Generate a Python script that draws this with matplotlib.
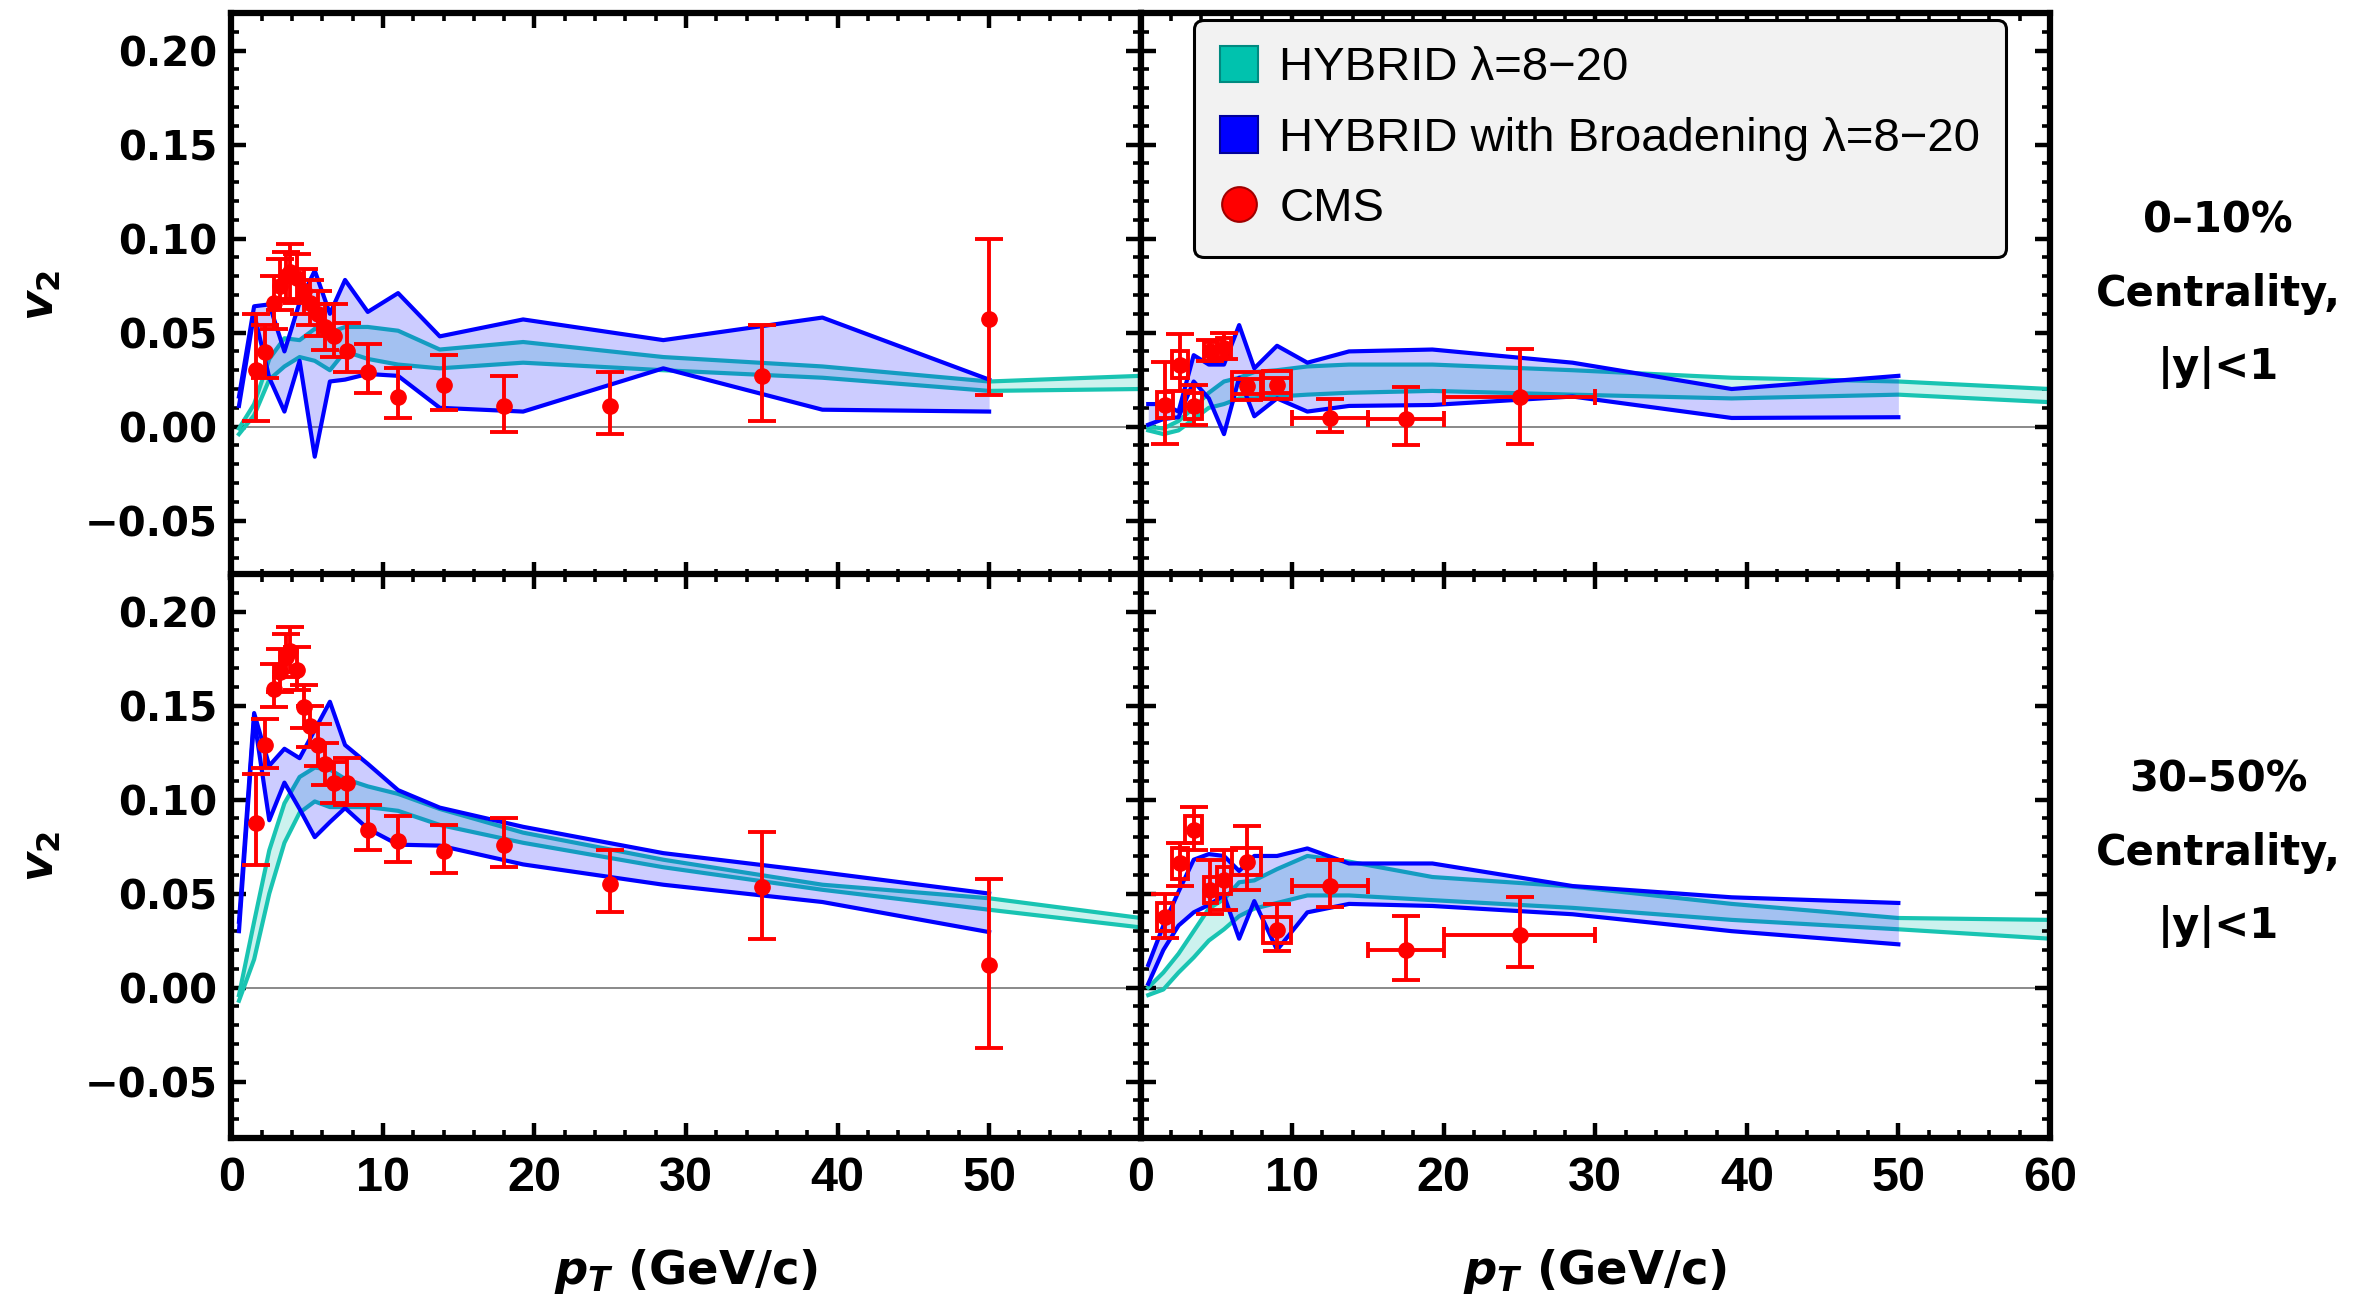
import numpy as np
import matplotlib
matplotlib.use("Agg")
import matplotlib.pyplot as plt
from matplotlib.ticker import MultipleLocator, FuncFormatter
from matplotlib.patches import Rectangle, Patch
from matplotlib.lines import Line2D

# theory pT grids
pt_broad = [0.5, 1.5, 2.5, 3.5, 4.5, 5.5, 6.5, 7.5, 9.0, 11.0, 13.75, 19.25, 28.5, 39.0, 50.0]
pt_hybrid = [0.5, 1.5, 2.5, 3.5, 4.5, 5.5, 6.5, 7.5, 9.0, 11.0, 13.75, 19.25, 28.5, 39.0, 50.0, 60.0]

# 0-10%, left column
tl_hyb_hi = [-0.001, 0.012, 0.036, 0.047, 0.046, 0.052, 0.050, 0.053, 0.053, 0.051, 0.041, 0.045, 0.037, 0.032, 0.024, 0.027]
tl_hyb_lo = [-0.004, 0.006, 0.025, 0.032, 0.037, 0.035, 0.030, 0.040, 0.036, 0.033, 0.031, 0.034, 0.030, 0.026, 0.019, 0.020]
tl_brd_hi = [0.016, 0.064, 0.065, 0.040, 0.066, 0.083, 0.060, 0.078, 0.061, 0.071, 0.048, 0.057, 0.046, 0.058, 0.025]
tl_brd_lo = [0.011, 0.060, 0.026, 0.008, 0.035, -0.016, 0.024, 0.025, 0.028, 0.027, 0.010, 0.008, 0.031, 0.009, 0.008]

# 0-10%, right column
tr_hyb_hi = [0.000, -0.001, 0.003, 0.010, 0.018, 0.024, 0.026, 0.029, 0.030, 0.032, 0.033, 0.033, 0.030, 0.026, 0.024, 0.020]
tr_hyb_lo = [-0.002, -0.004, -0.002, 0.004, 0.010, 0.012, 0.015, 0.015, 0.016, 0.017, 0.018, 0.019, 0.017, 0.015, 0.017, 0.013]
tr_brd_hi = [0.012, 0.012, 0.008, 0.038, 0.033, 0.033, 0.054, 0.031, 0.043, 0.034, 0.040, 0.041, 0.034, 0.020, 0.027]
tr_brd_lo = [0.001, 0.004, 0.005, 0.024, 0.015, -0.004, 0.026, 0.0055, 0.015, 0.008, 0.011, 0.0115, 0.016, 0.0046, 0.005]

# 30-50%, left column
bl_hyb_hi = [-0.004, 0.035, 0.073, 0.098, 0.112, 0.117, 0.116, 0.111, 0.107, 0.103, 0.095, 0.0824, 0.068, 0.0547, 0.0475, 0.037]
bl_hyb_lo = [-0.007, 0.015, 0.050, 0.077, 0.093, 0.099, 0.096, 0.096, 0.096, 0.094, 0.0865, 0.077, 0.064, 0.052, 0.0414, 0.032]
bl_brd_hi = [0.035, 0.146, 0.118, 0.127, 0.122, 0.137, 0.152, 0.129, 0.119, 0.105, 0.0957, 0.0855, 0.0715, 0.0613, 0.050]
bl_brd_lo = [0.030, 0.143, 0.089, 0.109, 0.095, 0.080, 0.088, 0.0955, 0.0845, 0.076, 0.0755, 0.0655, 0.0547, 0.0455, 0.0295]

# 30-50%, right column
br_hyb_hi = [0.000, 0.008, 0.018, 0.030, 0.042, 0.047, 0.056, 0.057, 0.063, 0.070, 0.067, 0.0588, 0.0537, 0.0445, 0.037, 0.036]
br_hyb_lo = [-0.004, -0.001, 0.008, 0.016, 0.025, 0.031, 0.038, 0.042, 0.045, 0.049, 0.049, 0.0465, 0.0424, 0.036, 0.031, 0.026]
br_brd_hi = [0.012, 0.033, 0.051, 0.068, 0.071, 0.070, 0.062, 0.070, 0.070, 0.074, 0.066, 0.066, 0.054, 0.048, 0.045]
br_brd_lo = [0.002, 0.020, 0.033, 0.040, 0.044, 0.049, 0.026, 0.046, 0.020, 0.040, 0.0445, 0.0434, 0.039, 0.030, 0.023]

# CMS data, left column
cms_pt_l = [1.6, 2.25, 2.8, 3.2, 3.6, 3.9, 4.3, 4.8, 5.2, 5.7, 6.2, 6.8, 7.6, 9.0, 11.0, 14.0, 18.0, 25.0, 35.0, 50.0]
tl_v2 = [0.030, 0.0395, 0.066, 0.075, 0.080, 0.082, 0.079, 0.072, 0.066, 0.060, 0.053, 0.048, 0.040, 0.029, 0.016, 0.022, 0.011, 0.011, 0.027, 0.057]
tl_lo = [0.027, 0.0135, 0.014, 0.013, 0.013, 0.014, 0.013, 0.012, 0.012, 0.012, 0.012, 0.011, 0.011, 0.011, 0.0115, 0.013, 0.014, 0.015, 0.024, 0.040]
tl_hi = [0.030, 0.0145, 0.014, 0.014, 0.013, 0.015, 0.013, 0.012, 0.012, 0.012, 0.012, 0.017, 0.015, 0.015, 0.015, 0.016, 0.016, 0.018, 0.027, 0.043]
bl_v2 = [0.0875, 0.129, 0.159, 0.168, 0.176, 0.179, 0.169, 0.149, 0.139, 0.129, 0.119, 0.109, 0.109, 0.0836, 0.078, 0.0725, 0.0756, 0.0553, 0.0533, 0.012]
bl_lo = [0.0225, 0.012, 0.010, 0.011, 0.011, 0.011, 0.011, 0.011, 0.011, 0.011, 0.011, 0.011, 0.012, 0.0106, 0.011, 0.0115, 0.0116, 0.0153, 0.0273, 0.044]
bl_hi = [0.026, 0.014, 0.013, 0.012, 0.012, 0.013, 0.012, 0.012, 0.011, 0.011, 0.011, 0.011, 0.013, 0.0134, 0.013, 0.0141, 0.0144, 0.0177, 0.0297, 0.046]

# CMS data, right column (bin half widths, systematic boxes)
cms_pt_r = [1.6, 2.6, 3.5, 4.6, 5.5, 7.0, 9.0, 12.5, 17.5, 25.0]
cms_bin_r = [0, 0, 0, 0, 0, 0, 0, 2.5, 2.5, 5.0]
cms_box_r = [0.55, 0.5, 0.55, 0.45, 0.45, 0.95, 0.95, 0, 0, 0]
tr_v2 = [0.0115, 0.033, 0.011, 0.040, 0.042, 0.0215, 0.022, 0.0047, 0.004, 0.0155]
tr_lo = [0.021, 0.014, 0.010, 0.005, 0.006, 0.004, 0.004, 0.0075, 0.014, 0.025]
tr_hi = [0.023, 0.016, 0.011, 0.006, 0.008, 0.004, 0.004, 0.010, 0.017, 0.026]
tr_sys = [0.007, 0.007, 0.007, 0.005, 0.005, 0.0075, 0.0075, 0, 0, 0]
br_v2 = [0.0375, 0.066, 0.084, 0.052, 0.057, 0.067, 0.0305, 0.054, 0.020, 0.028]
br_lo = [0.011, 0.012, 0.011, 0.013, 0.016, 0.015, 0.011, 0.011, 0.016, 0.017]
br_hi = [0.012, 0.011, 0.012, 0.016, 0.016, 0.019, 0.014, 0.014, 0.018, 0.020]
br_sys = [0.0075, 0.008, 0.007, 0.007, 0.007, 0.007, 0.007, 0, 0, 0]

CYAN = '#19c4b2'
BLUE = '#0000ff'
RED = '#ff0000'

plt.rcParams['font.family'] = ['DejaVu Sans']
plt.rcParams['mathtext.fontset'] = 'custom'
plt.rcParams['mathtext.it'] = 'DejaVu Sans:bold:italic'
plt.rcParams['mathtext.rm'] = 'DejaVu Sans:bold'
plt.rcParams['mathtext.bf'] = 'DejaVu Sans:bold'


def draw_theory(ax, hyb_lo, hyb_hi, brd_lo, brd_hi):
    ax.axhline(0, color='#808080', lw=1.3, zorder=0.5)
    ax.fill_between(pt_hybrid, hyb_lo, hyb_hi, color=CYAN, alpha=0.22, lw=0, zorder=1)
    ax.plot(pt_hybrid, hyb_lo, color=CYAN, lw=3.0, zorder=2)
    ax.plot(pt_hybrid, hyb_hi, color=CYAN, lw=3.0, zorder=2)
    ax.fill_between(pt_broad, brd_lo, brd_hi, color=BLUE, alpha=0.2, lw=0, zorder=3)
    ax.plot(pt_broad, brd_lo, color=BLUE, lw=3.0, zorder=4)
    ax.plot(pt_broad, brd_hi, color=BLUE, lw=3.0, zorder=4)


def draw_cms(ax, x, y, lo, hi, xerr=None, box_dx=None, box_dy=None):
    x = np.asarray(x)
    y = np.asarray(y)
    ax.errorbar(x, y, yerr=[lo, hi], fmt='o', color=RED, ms=11,
                elinewidth=2.8, capsize=10, capthick=2.8, zorder=6)
    if xerr is not None:
        xerr = np.asarray(xerr)
        m = xerr > 0
        ax.errorbar(x[m], y[m], xerr=xerr[m], fmt='none', ecolor=RED,
                    elinewidth=2.8, capsize=6, capthick=2.8, zorder=6)
    if box_dx is not None:
        for xi, yi, dx, dy in zip(x, y, box_dx, box_dy):
            if dx > 0:
                ax.add_patch(Rectangle((xi - dx, yi - dy), 2 * dx, 2 * dy, fill=False,
                                       ec=RED, lw=2.8, zorder=6))


def style_axis(ax, show_x, show_y, drop_60=False):
    ax.set_xlim(0, 60)
    ax.set_ylim(-0.08, 0.22)
    ax.set_xticks([0, 10, 20, 30, 40, 50, 60])
    ax.set_yticks([-0.05, 0.0, 0.05, 0.10, 0.15, 0.20])
    ax.xaxis.set_minor_locator(MultipleLocator(2))
    ax.yaxis.set_minor_locator(MultipleLocator(0.01))
    ax.yaxis.set_major_formatter(FuncFormatter(lambda v, p: f'{v:.2f}'.replace('-', '\u2212')))
    if drop_60:
        ax.xaxis.set_major_formatter(FuncFormatter(lambda v, p: '' if v > 55 else f'{v:.0f}'))
    else:
        ax.xaxis.set_major_formatter(FuncFormatter(lambda v, p: f'{v:.0f}'))
    ax.tick_params(which='both', direction='in', top=True, right=True,
                   labelbottom=show_x, labelleft=show_y)
    ax.tick_params(which='major', length=11, width=3.2)
    ax.tick_params(which='minor', length=6, width=2.6)
    ax.tick_params(axis='x', pad=13)
    ax.tick_params(axis='y', pad=10)
    for sp in ax.spines.values():
        sp.set_linewidth(4.5)
        sp.set_zorder(10)
    plt.setp(ax.get_xticklabels(), fontfamily=['Liberation Sans', 'DejaVu Sans'],
             fontweight='bold', fontsize=35)
    plt.setp(ax.get_yticklabels(), fontfamily='DejaVu Sans', fontweight='bold', fontsize=29)
    if show_y:
        ax.set_ylabel(r'$v_2$', fontsize=33)
        ax.yaxis.set_label_coords(-0.185, 0.5)
    if show_x:
        ax.set_xlabel(r'$p_T$ (GeV/c)', fontsize=33.5, fontweight='bold')
        ax.xaxis.label.set_va('center')
        ax.xaxis.set_label_coords(0.5, -0.236)


fig = plt.figure(figsize=(23.66, 12.97), dpi=100)
L, W = 0.0978, 0.3843
B_top, B_bot, H = 0.5551, 0.1226, 0.4349
ax_tl = fig.add_axes([L, B_top, W, H])
ax_tr = fig.add_axes([L + W, B_top, W, H])
ax_bl = fig.add_axes([L, B_bot, W, H])
ax_br = fig.add_axes([L + W, B_bot, W, H])

draw_theory(ax_tl, tl_hyb_lo, tl_hyb_hi, tl_brd_lo, tl_brd_hi)
draw_theory(ax_tr, tr_hyb_lo, tr_hyb_hi, tr_brd_lo, tr_brd_hi)
draw_theory(ax_bl, bl_hyb_lo, bl_hyb_hi, bl_brd_lo, bl_brd_hi)
draw_theory(ax_br, br_hyb_lo, br_hyb_hi, br_brd_lo, br_brd_hi)

draw_cms(ax_tl, cms_pt_l, tl_v2, tl_lo, tl_hi)
draw_cms(ax_bl, cms_pt_l, bl_v2, bl_lo, bl_hi)
draw_cms(ax_tr, cms_pt_r, tr_v2, tr_lo, tr_hi, cms_bin_r, cms_box_r, tr_sys)
draw_cms(ax_br, cms_pt_r, br_v2, br_lo, br_hi, cms_bin_r, cms_box_r, br_sys)

style_axis(ax_tl, False, True)
style_axis(ax_tr, False, False)
style_axis(ax_bl, True, True, drop_60=True)
style_axis(ax_br, True, False)

handles = [
    Patch(facecolor='#00c2ae', edgecolor='#008a80', lw=1.5, label='HYBRID \u03bb=8\u221220'),
    Patch(facecolor=BLUE, edgecolor='#00009a', lw=1.5, label='HYBRID with Broadening \u03bb=8\u221220'),
    Line2D([], [], ls='none', marker='o', ms=25, mfc=RED, mec='#a00000', mew=1.5, label='CMS'),
]
leg = ax_tr.legend(handles=handles, loc='upper left', bbox_to_anchor=(0.0592, 0.9876),
                   borderaxespad=0, prop={'family': 'Liberation Sans', 'size': 34},
                   handlelength=0.8, handleheight=0.8, handletextpad=0.45,
                   labelspacing=0.55, borderpad=0.55, fancybox=True,
                   facecolor='#f2f2f2', edgecolor='black', framealpha=1)
leg.get_frame().set_linewidth(2.2)
leg.set_zorder(20)

fig.text(0.9375, 0.7733, '0\u201310%\nCentrality,\n|y|<1', ha='center', va='center',
         fontsize=30, fontweight='bold', linespacing=1.95)
fig.text(0.9375, 0.3423, '30\u201350%\nCentrality,\n|y|<1', ha='center', va='center',
         fontsize=30, fontweight='bold', linespacing=1.95)

fig.savefig('out.png', dpi=100)
